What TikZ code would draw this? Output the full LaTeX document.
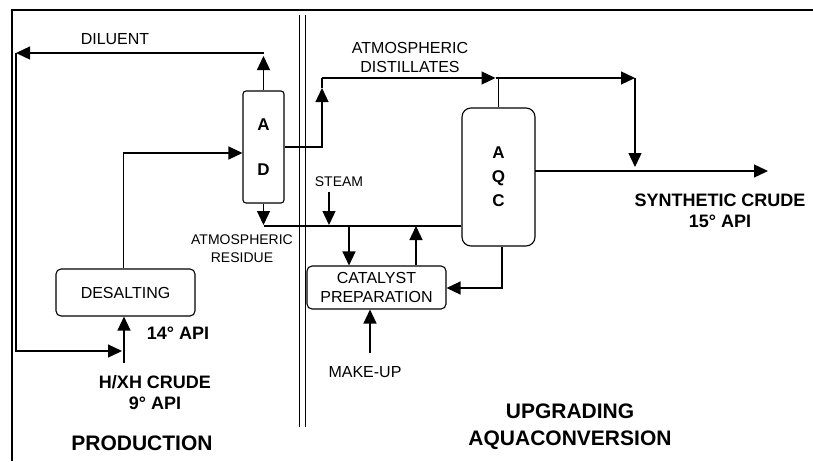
\documentclass[tikz,border=0pt]{standalone}
\usepackage{fontspec}
\setmainfont{Liberation Sans}
\usetikzlibrary{arrows.meta,calc}

\tikzset{
  unit/.style={draw, line width=1.1pt, rounded corners=5pt, inner sep=0pt},
  line/.style={line width=1.3pt},
  flow/.style={line, -{Triangle[length=14pt,width=13pt]}},
  lbl/.style={font=\fontsize{16}{19}\selectfont, align=center, inner sep=0pt},
  slbl/.style={font=\fontsize{14}{18}\selectfont, align=center, inner sep=0pt},
  blbl/.style={font=\fontsize{18}{21}\selectfont\bfseries, align=center, inner sep=0pt},
  area/.style={font=\fontsize{21}{27}\selectfont\bfseries, align=center, inner sep=0pt}
}

\begin{document}
\begin{tikzpicture}[x=1pt,y=-1pt]
  \useasboundingbox (0,0) rectangle (813,461);
  % Frame
  \draw[line width=2.5pt] (12,461) -- (12,10) -- (813,10);
  % Divider
  \draw[line width=1pt] (299,15) -- (299,427) (305,15) -- (305,427);
  % Units
  \node[unit, lbl, minimum width=139pt, minimum height=47pt] (desalt) at (125.5,292.5) {DESALTING};
  \node[unit, rounded corners=3pt, minimum width=41pt, minimum height=112pt,
        font=\fontsize{17}{45}\selectfont\bfseries, align=center] (ad) at (263.5,147) {A\\D};
  \node[unit, rounded corners=9pt, minimum width=73pt, minimum height=138pt,
        font=\fontsize{17}{24}\selectfont\bfseries, align=center] (aqc) at (498.5,177) {A\\Q\\C};
  \node[unit, lbl, minimum width=139pt, minimum height=43pt] (catprep) at (376.5,287.5) {CATALYST\\PREPARATION};
  % Free ends
  \coordinate (dilR) at (263.5,53);
  \coordinate (dilL) at (16,53);
  \coordinate (cruin) at (124,363);
  \coordinate (j1) at (322,78);
  \coordinate (j2) at (498.5,78);
  \coordinate (j3) at (635,78);
  \coordinate (prod) at (535,171);
  \coordinate (prodout) at (768,171);
  \coordinate (res) at (263.5,226);
  \coordinate (stin) at (329,192);
  \coordinate (c1) at (349,226);
  \coordinate (c2) at (416,226);
  \coordinate (ret) at (502,288);
  \coordinate (mk) at (370,353);
  % Labels
  \node[lbl] (diluent) at (115,39) {DILUENT};
  \node[lbl] (distlabel) at (410,57) {ATMOSPHERIC\\DISTILLATES};
  \node[slbl] (steam) at (339,182) {STEAM};
  \node[slbl] (residue) at (242,249) {ATMOSPHERIC\\RESIDUE};
  \node[lbl] (makeup) at (365,372) {MAKE-UP};
  \node[blbl] (api14) at (178,333) {14° API};
  \node[blbl] (crude) at (155,393) {H/XH CRUDE\\9° API};
  \node[blbl] (syncrude) at (720,211) {SYNTHETIC CRUDE\\15° API};
  \node[area] (production) at (142,443) {PRODUCTION};
  \node[area] (upgrading) at (570,427) {UPGRADING\\AQUACONVERSION};
  % Production side
  \draw[flow] (ad.north) -- ($(dilR)+(0,3)$);
  \draw[flow] (dilR) -- (dilL);
  \draw[flow] (dilL) |- ($(cruin)+(-2,-12)$);
  \draw[flow] (cruin) -- (cruin |- desalt.south);
  \draw[flow] ($(desalt.north)+(-2,0)$) |- ($(ad.west)+(0,6)$);
  % Distillates
  \draw[flow] (ad.east) -| ($(j1)+(0,10)$);
  \draw[line] ($(j1)+(0,10)$) -- (j1);
  \draw[flow] (j1) -- ($(j2)+(-3,0)$);
  \draw[line] ($(j2)+(-3,0)$) -- (j2) -- (aqc.north);
  \draw[flow] (j2) -- (j3);
  \draw[flow] (j3) -- ($(j3 |- prod)+(0,-4)$);
  \draw[flow] (prod) -- (prodout);
  % Residue and catalyst
  \draw[flow] (ad.south) -- ($(res)+(0,-1)$);
  \draw[line] (res) -- (res -| aqc.west);
  \draw[flow] (stin) -- ($(stin |- res)+(0,-1)$);
  \draw[flow] (c1) -- (c1 |- catprep.north);
  \draw[flow] (c2 |- catprep.north) -- (c2);
  \draw[flow] (ret |- aqc.south) -- (ret) -- (ret -| catprep.east);
  \draw[flow] (mk) -- (mk |- catprep.south);
\end{tikzpicture}
\end{document}
